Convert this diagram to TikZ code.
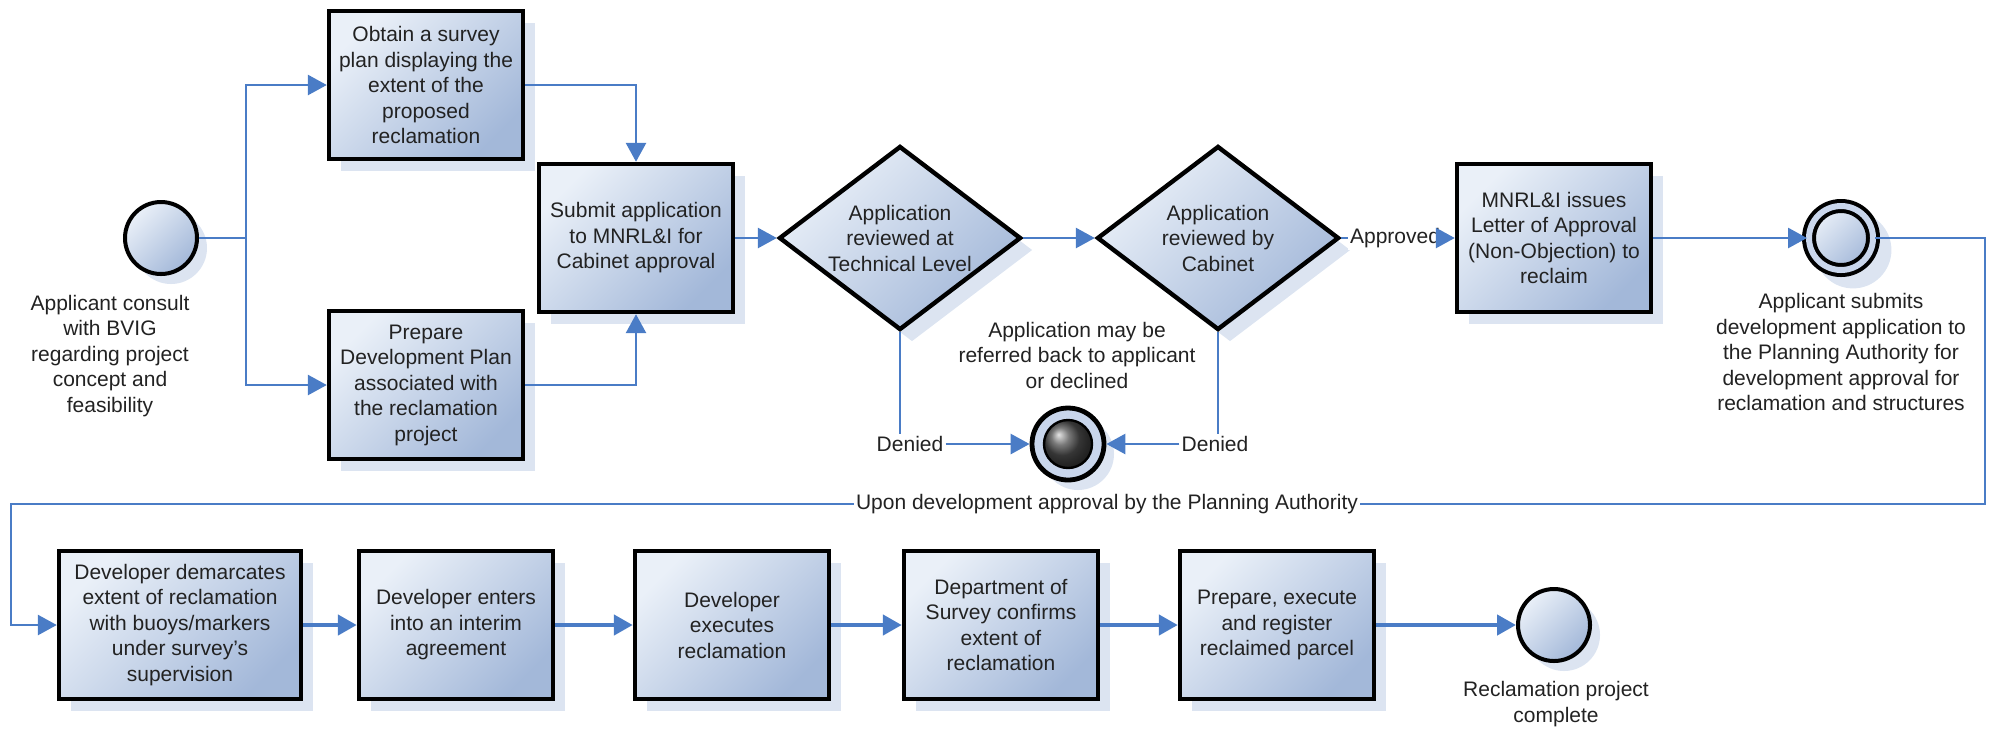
\documentclass[tikz,border=0pt]{standalone}
\usepackage{fontspec}
\setmainfont{Liberation Sans}
\usepackage{xcolor}
\usetikzlibrary{shapes.geometric, arrows.meta, positioning, calc, shadows}
\definecolor{flowblue}{HTML}{4A7CC6}
\definecolor{boxlight}{HTML}{EAF0F8}
\definecolor{boxdark}{HTML}{A3B8D9}
\definecolor{shadowblue}{HTML}{DCE4F1}
\definecolor{ringblue}{HTML}{C9D6EC}
\definecolor{inkgrey}{HTML}{222222}

\begin{document}
\begin{tikzpicture}[x=0.5pt, y=-0.5pt,
  font=\fontsize{10.5}{12.75}\selectfont, text=inkgrey,
  task/.style={draw=black, line width=2.2pt, top color=boxlight, bottom color=boxdark,
    shading angle=45, minimum width=97pt, minimum height=74pt, align=center, inner sep=2pt,
    general shadow={fill=shadowblue, shadow xshift=6pt, shadow yshift=-6pt}},
  decision/.style={diamond, draw=black, line width=2.2pt, top color=boxlight, bottom color=boxdark,
    shading angle=45, aspect=1.32, minimum width=121pt, minimum height=92pt, inner sep=0pt,
    align=center, general shadow={fill=shadowblue, shadow xshift=6pt, shadow yshift=-6pt}},
  startev/.style={circle, draw=black, line width=2pt, top color=boxlight, bottom color=boxdark,
    shading angle=45, minimum size=36pt, inner sep=0pt,
    general shadow={fill=shadowblue, shadow xshift=5pt, shadow yshift=-5pt}},
  interev/.style={startev, double=ringblue, double distance=3pt, minimum size=32pt,
    general shadow={fill=shadowblue, shadow scale=1.2, shadow xshift=5pt, shadow yshift=-5pt}},
  termev/.style={circle, draw=black, line width=2.4pt, fill=ringblue, minimum size=36pt, inner sep=0pt,
    general shadow={fill=shadowblue, shadow xshift=5pt, shadow yshift=-5pt}},
  termcore/.style={circle, draw=black, line width=1.2pt, ball color=black!70, minimum size=24pt, inner sep=0pt},
  note/.style={align=center, inner sep=0pt},
  tag/.style={inner sep=1pt, fill=white},
  wire/.style={draw=flowblue, line width=1.4pt},
  flow/.style={wire, -{Triangle[length=9.5pt, width=10pt]}},
  bigflow/.style={flow, line width=2.2pt}]
  \useasboundingbox (0,0) rectangle (1989,730);

  % top row
  \node[startev] (start) at (161,238) {};
  \node[note] (startlbl) at (110,356) {Applicant consult\\with BVIG\\regarding project\\concept and\\feasibility};
  \coordinate (fork) at (246,238);
  \node[task] (survey) at (426,85) {Obtain a survey\\plan displaying the\\extent of the\\proposed\\reclamation};
  \node[task] (devplan) at (426,385) {Prepare\\Development Plan\\associated with\\the reclamation\\project};
  \node[task] (submit) at (636,238) {Submit application\\to MNRL\&I for\\Cabinet approval};
  \node[decision] (tech) at (900,238) {Application\\reviewed at\\Technical Level};
  \node[decision] (cab) at (1218,238) {Application\\reviewed by\\Cabinet};
  \node[tag] (appr) at (1395,238) {Approved};
  \node[task] (loa) at (1554,238) {MNRL\&I issues\\Letter of Approval\\(Non-Objection) to\\reclaim};
  \node[interev] (devapp) at (1841,238) {};
  \node[note] (devapplbl) at (1841,352) {Applicant submits\\development application to\\the Planning Authority for\\development approval for\\reclamation and structures};

  % refusal
  \node[note] (referlbl) at (1077,355) {Application may be\\referred back to applicant\\or declined};
  \node[termev] (stop) at (1068,444) {};
  \node[termcore] (stopcore) at (stop) {};
  \node[tag] (deny1) at (910,444) {Denied};
  \node[tag] (deny2) at (1215,444) {Denied};

  % loop back
  \coordinate (rgt) at (1985,238);
  \coordinate (lft) at (11,504);
  \node[tag] (upon) at (1107,504) {Upon development approval by the Planning Authority};

  % bottom row
  \node[task, minimum width=121pt] (mark) at (180,625) {Developer demarcates\\extent of reclamation\\with buoys/markers\\under survey's\\supervision};
  \node[task] (interim) at (456,625) {Developer enters\\into an interim\\agreement};
  \node[task] (exec) at (732,625) {Developer\\executes\\reclamation};
  \node[task] (confirm) at (1001,625) {Department of\\Survey confirms\\extent of\\reclamation};
  \node[task] (parcel) at (1277,625) {Prepare, execute\\and register\\reclaimed parcel};
  \node[startev] (done) at (1554,625) {};
  \node[note] (donelbl) at (1556,704) {Reclamation project\\complete};

  \draw[wire] (start) -- (fork);
  \draw[flow] (fork) |- (survey);
  \draw[flow] (fork) |- (devplan);
  \draw[flow] (survey) -| (submit);
  \draw[flow] (devplan) -| (submit);
  \draw[flow] (submit) -- (tech);
  \draw[flow] (tech) -- (cab);
  \draw[wire] (cab) -- (appr);
  \draw[flow] (appr) -- (loa);
  \draw[flow] (loa) -- (devapp);
  \draw[wire] (tech) -- (tech |- deny1.north);
  \draw[flow] (deny1) -- (stop);
  \draw[wire] (cab) -- (cab |- deny2.north);
  \draw[flow] (deny2) -- (stop);
  \draw[wire] (devapp) -- (rgt) |- (upon);
  \draw[flow] (upon) -- (lft) |- (mark);
  \draw[bigflow] (mark) -- (interim);
  \draw[bigflow] (interim) -- (exec);
  \draw[bigflow] (exec) -- (confirm);
  \draw[bigflow] (confirm) -- (parcel);
  \draw[bigflow] (parcel) -- (done);
\end{tikzpicture}
\end{document}
